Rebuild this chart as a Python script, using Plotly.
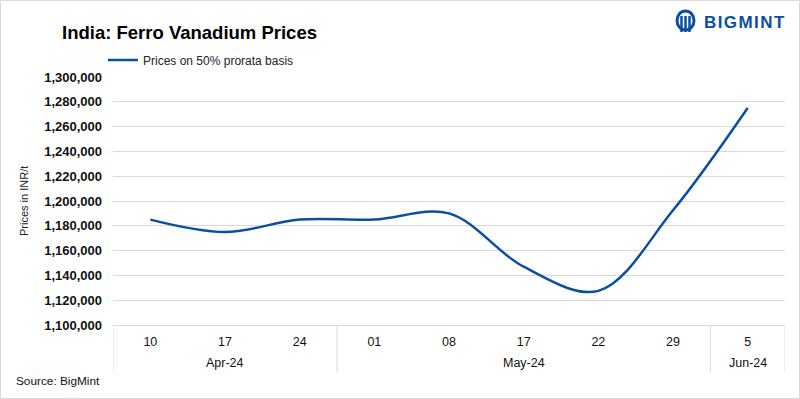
import plotly.graph_objects as go

months = ["Apr-24", "Apr-24", "Apr-24", "May-24", "May-24", "May-24", "May-24", "May-24", "Jun-24"]
days = ["10", "17", "24", "01", "08", "17", "22", "29", "5"]
prices = [1185000, 1175000, 1185000, 1185000, 1190000, 1147000, 1127500, 1192500, 1275000]
y_ticks = list(range(1100000, 1300001, 20000))
series_name = "Prices on 50% prorata basis"

# repeated day labels get an invisible zero-width suffix so each is its own category
seen = {}
inner = []
for d in days:
    n = seen.get(d, 0)
    inner.append(d + "\u200b" * n)
    seen[d] = n + 1

# month groups: (label, first index, last index)
groups = []
for i, m in enumerate(months):
    if groups and groups[-1][0] == m:
        groups[-1][2] = i
    else:
        groups.append([m, i, i])

# layout geometry (pixels)
W, H = 800, 399
L, R, T, B = 113, 15, 77, 74
PW, PH = W - L - R, H - T - B

def px(x):
    return (x - L) / PW

def py(y):
    return (H - B - y) / PH

BLUE = "#0b4ea2"
GRID = "#d9d9d9"
FONT = "Liberation Sans, Arial, sans-serif"

fig = go.Figure()
fig.add_trace(go.Scatter(
    x=inner, y=prices, mode="lines", name=series_name,
    line=dict(color=BLUE, width=2.5, shape="spline", smoothing=1.0),
))

fig.update_layout(
    width=W, height=H,
    margin=dict(l=L, r=R, t=T, b=B, autoexpand=False),
    paper_bgcolor="white", plot_bgcolor="white",
    font=dict(family=FONT, color="#000000"),
    title=dict(text="<b>India: Ferro Vanadium Prices</b>", x=62 / W, xanchor="left",
               xref="container", y=1 - 33 / H, yanchor="middle", pad=dict(l=0, r=0, t=0, b=0),
               font=dict(size=18.5, color="#000")),
    showlegend=True,
    legend=dict(orientation="h", x=px(103), xanchor="left", y=py(60), yanchor="middle",
                font=dict(size=12, color="#222"), bgcolor="rgba(0,0,0,0)"),
    xaxis=dict(type="category", range=[-0.5, len(days) - 0.5], automargin=False,
               showgrid=False, showline=True, linecolor=GRID,
               linewidth=1, ticks="", ticklabelstandoff=5,
               tickfont=dict(size=12.5, color="#111")),
    yaxis=dict(range=[1100000, 1300000], tickvals=y_ticks, tickformat=",d", automargin=False,
               showgrid=True, gridcolor=GRID, gridwidth=1, zeroline=False,
               showline=False, ticks="", ticklabelstandoff=10,
               tickfont=dict(size=13, color="#111", weight="bold")),
)

# month group labels and dividers on the category axis
for label, i0, i1 in groups:
    fig.add_annotation(text=label, xref="x", yref="paper", x=(i0 + i1) / 2, y=py(363),
                       xanchor="center", yanchor="middle", showarrow=False,
                       font=dict(size=12.5, color="#111"))
bounds = [groups[0][1] - 0.5] + [g[2] + 0.5 for g in groups]
for b in bounds:
    fig.add_shape(type="line", xref="x", yref="paper", x0=b, x1=b, y0=py(325), y1=py(372),
                  line=dict(color=GRID, width=1))

fig.add_annotation(text="Prices in INR/t", textangle=-90, xref="paper", yref="paper",
                   x=px(24), y=py(201), xanchor="center", yanchor="middle",
                   showarrow=False, font=dict(size=11, color="#222"))
fig.add_annotation(text="Source: BigMint", xref="paper", yref="paper",
                   x=px(14), y=py(381), xanchor="left", yanchor="middle",
                   showarrow=False, font=dict(size=11.8, color="#111"))
fig.add_annotation(text="<b>B\u200aI\u200aG\u200aM\u200aI\u200aN\u200aT</b>", xref="paper", yref="paper",
                   x=px(702), y=py(22), xanchor="left", yanchor="middle",
                   showarrow=False, font=dict(size=17, color=BLUE))

# logo icon
fig.add_shape(type="circle", xref="paper", yref="paper",
              x0=px(677), x1=px(694), y0=py(30), y1=py(11),
              line=dict(color=BLUE, width=3), fillcolor="white")
for cx in (681.5, 685.5, 689.5):
    fig.add_shape(type="line", xref="paper", yref="paper",
                  x0=px(cx), x1=px(cx), y0=py(32), y1=py(16),
                  line=dict(color=BLUE, width=2.5))

# outer border
fig.add_shape(type="rect", xref="paper", yref="paper",
              x0=px(0.5), x1=px(799.5), y0=py(398.5), y1=py(0.5),
              line=dict(color=GRID, width=1), layer="below")

fig.write_html("out.html", config={"displayModeBar": False},
               post_script="document.body.style.margin='0';document.body.style.overflow='hidden';")
